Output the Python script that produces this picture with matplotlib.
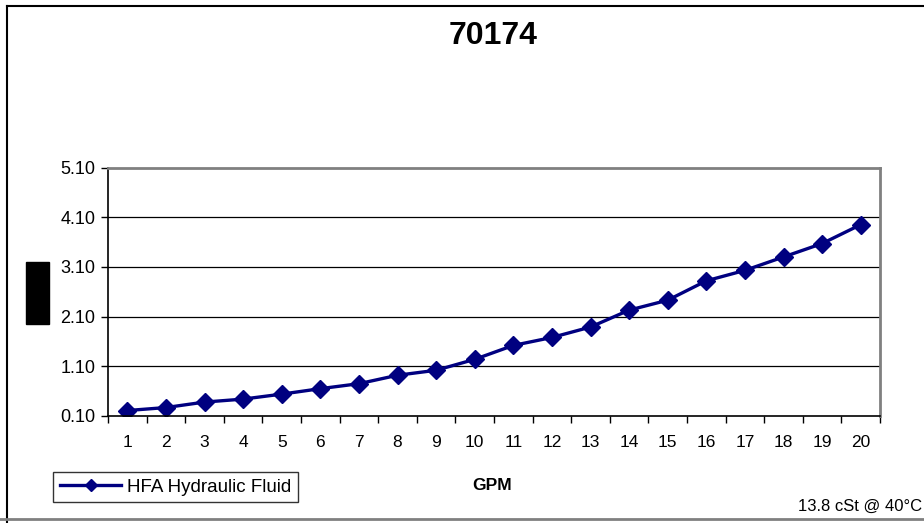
import matplotlib.pyplot as plt
from matplotlib.lines import Line2D
from matplotlib.patches import Rectangle

plt.rcParams['font.family'] = ['Liberation Sans', 'DejaVu Sans']

gpm = list(range(1, 21))
pressure = [0.21, 0.27, 0.38, 0.44, 0.54, 0.65, 0.75, 0.92, 1.02, 1.24,
            1.52, 1.68, 1.89, 2.23, 2.43, 2.82, 3.03, 3.30, 3.57, 3.95]
y_ticks = [0.10, 1.10, 2.10, 3.10, 4.10, 5.10]
series_name = "HFA Hydraulic Fluid"

W, H = 924, 523
fig = plt.figure(figsize=(W / 100, H / 100), dpi=100)

# plot area, in pixel geometry of the original
left, right, top, bottom = 108, 880, 167.5, 416
ax = fig.add_axes([left / W, (H - bottom) / H, (right - left) / W, (bottom - top) / H])

ax.plot(gpm, pressure, color='#000080', linewidth=2.4,
        marker='D', markersize=9.5, label=series_name)

ax.set_xlim(0.5, 20.5)
ax.set_ylim(0.10, 5.10)
ax.set_yticks(y_ticks)
ax.set_yticklabels([f"{v:.2f}" for v in y_ticks], fontsize=13)
ax.set_xticks(gpm)
ax.set_xticklabels([str(g) for g in gpm], fontsize=12.5)
ax.set_xticks([g - 0.5 for g in gpm] + [20.5], minor=True)
ax.tick_params(axis='x', which='major', length=0, pad=14)
ax.tick_params(axis='x', which='minor', length=5, width=1, direction='out')
ax.tick_params(axis='y', length=5, width=1, direction='out', pad=4)

for v in y_ticks[1:-1]:
    ax.axhline(v, color='black', linewidth=0.9, zorder=1)

ax.spines['left'].set_color('black')
ax.spines['bottom'].set_color('black')
ax.spines['left'].set_linewidth(1.2)
ax.spines['bottom'].set_linewidth(1.2)
ax.spines['top'].set_color('#808080')
ax.spines['right'].set_color('#808080')
ax.spines['top'].set_linewidth(2)
ax.spines['right'].set_linewidth(2)

fig.text(493 / W, 1 - 36 / H, "70174", fontsize=23, fontweight='bold',
         ha='center', va='center')
fig.text(492 / W, 1 - 486 / H, "GPM", fontsize=12.5, fontweight='bold',
         ha='center', va='center')
fig.text(922 / W, 1 - 506 / H, "13.8 cSt @ 40°C", fontsize=12,
         ha='right', va='center')

# redacted axis title box
fig.patches.append(Rectangle((26 / W, (H - 324) / H), 23 / W, 62 / H,
                             transform=fig.transFigure, color='black'))

# chart frame
fig.lines.append(Line2D([7 / W, 7 / W], [0, 1 - 6 / H], transform=fig.transFigure,
                        color='black', linewidth=1.5))
fig.lines.append(Line2D([7 / W, 1], [1 - 6 / H, 1 - 6 / H], transform=fig.transFigure,
                        color='black', linewidth=1.5))
fig.lines.append(Line2D([0, 1], [1 - 519 / H, 1 - 519 / H], transform=fig.transFigure,
                        color='#808080', linewidth=2))

leg = fig.legend(loc='center left', bbox_to_anchor=(53 / W, 1 - 487 / H),
                 fontsize=13.5, frameon=True, fancybox=False, markerscale=0.65,
                 handlelength=3.3, handletextpad=0.3, borderpad=0.35,
                 borderaxespad=0)
leg.get_frame().set_edgecolor('black')
leg.get_frame().set_linewidth(1)

fig.savefig("out.png", dpi=100)
